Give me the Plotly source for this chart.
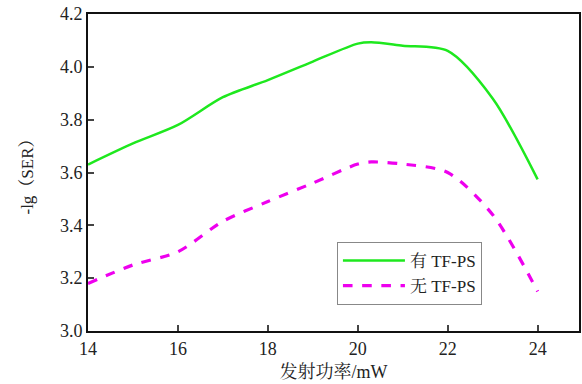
import plotly.graph_objects as go

power = [14, 15, 16, 17, 18, 19, 20, 20.3, 21, 22, 23, 24]
with_tfps = [3.63, 3.71, 3.78, 3.885, 3.95, 4.02, 4.088, 4.093, 4.08, 4.06, 3.88, 3.574]
without_tfps = [3.18, 3.25, 3.30, 3.415, 3.49, 3.56, 3.632, 3.64, 3.632, 3.60, 3.44, 3.15]
x_ticks = [14, 16, 18, 20, 22, 24]
y_ticks = [3.0, 3.2, 3.4, 3.6, 3.8, 4.0, 4.2]

font_fam = "Liberation Serif, Noto Serif CJK SC, Noto Sans CJK SC, serif"

fig = go.Figure()
fig.add_trace(go.Scatter(x=power, y=with_tfps, mode="lines", name="有 TF-PS",
                         line=dict(color="#1ee81e", width=2.5, shape="spline", smoothing=0.8)))
fig.add_trace(go.Scatter(x=power, y=without_tfps, mode="lines", name="无 TF-PS",
                         line=dict(color="#ee00ee", width=3.2, shape="spline", smoothing=0.8, dash="dash")))

fig.update_layout(
    width=582, height=384,
    margin=dict(l=88, r=1, t=14, b=53),
    plot_bgcolor="white", paper_bgcolor="white",
    font=dict(family=font_fam, size=18, color="#222"),
    showlegend=True,
    legend=dict(x=0.507, y=0.281, xanchor="left", yanchor="top",
                bordercolor="#888", borderwidth=1, bgcolor="white",
                font=dict(size=17, family=font_fam), itemwidth=62,
                tracegroupgap=0),
    xaxis=dict(range=[14, 24.92], tickvals=x_ticks, ticks="inside", ticklen=6, tickwidth=1.5,
               showline=True, linecolor="#111", linewidth=2, mirror=True, showgrid=False,
               zeroline=False, tickfont=dict(size=18),
               title=dict(text="发射功率/mW", standoff=8, font=dict(size=18))),
    yaxis=dict(range=[3.0, 4.2], tickvals=y_ticks, tickformat=".1f", ticks="inside", ticklen=6, tickwidth=1.5,
               showline=True, linecolor="#111", linewidth=2, mirror=True, showgrid=False,
               zeroline=False, tickfont=dict(size=18),
               title=dict(text="-lg（SER）", standoff=22, font=dict(size=17))),
)

fig.write_html("out.html")
